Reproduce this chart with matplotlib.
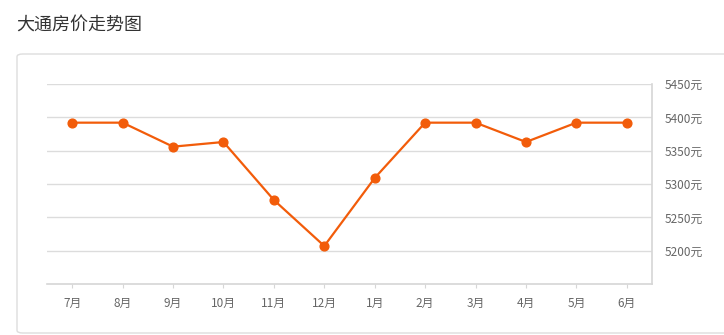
import matplotlib.pyplot as plt
from matplotlib.patches import FancyBboxPatch

plt.rcParams['font.family'] = ['Noto Sans CJK SC', 'DejaVu Sans']

months = ['7月', '8月', '9月', '10月', '11月', '12月', '1月', '2月', '3月', '4月', '5月', '6月']
prices = [5392, 5392, 5356, 5363, 5276, 5207, 5309, 5392, 5392, 5363, 5392, 5392]
y_ticks = [5200, 5250, 5300, 5350, 5400, 5450]
y_labels = [f'{v}元' for v in y_ticks]

W, H = 724, 335
fig = plt.figure(figsize=(W / 100, H / 100), dpi=100)

# card behind the chart
card = FancyBboxPatch((17 / W, 2 / H), 720 / W, 279 / H,
                      boxstyle='round,pad=0,rounding_size=0.008',
                      transform=fig.transFigure, facecolor='white',
                      edgecolor='#dddddd', linewidth=1, zorder=-1)
fig.patches.append(card)

fig.text(16 / W, 1 - 26 / H, '大通房价走势图', fontsize=13, color='#333333',
         va='center', ha='left')

ax = fig.add_axes([47 / W, 1 - 284 / H, (652 - 47) / W, (284 - 84) / H])
ax.set_facecolor('none')

x = list(range(len(months)))
ax.plot(x, prices, color='#f25c0a', linewidth=1.6, marker='o',
        markersize=6.3, zorder=3)

ax.set_xlim(-0.5, len(months) - 0.5)
ax.set_ylim(5150, 5450)
ax.set_xticks(x)
ax.set_xticklabels(months)
ax.set_yticks(y_ticks)
ax.set_yticklabels(y_labels)
ax.yaxis.tick_right()
ax.grid(axis='y', color='#dcdcdc', linewidth=1)
ax.set_axisbelow(True)

for s in ['top', 'left']:
    ax.spines[s].set_visible(False)
for s in ['bottom', 'right']:
    ax.spines[s].set_color('#d6d6d6')
    ax.spines[s].set_linewidth(1.2)

ax.tick_params(axis='x', colors='#d6d6d6', labelcolor='#666666',
               labelsize=8.5, length=3, pad=6)
ax.tick_params(axis='y', length=0, labelcolor='#666666', labelsize=8.5, pad=9)

fig.savefig('out.png', dpi=100)
